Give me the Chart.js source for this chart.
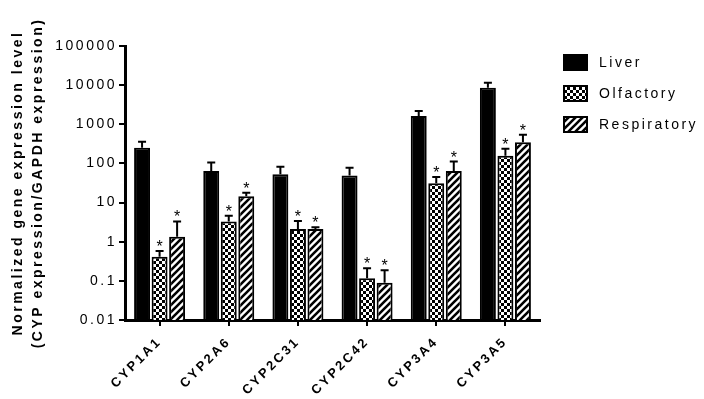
<!DOCTYPE html>
<html>
<head>
<meta charset="utf-8">
<script src="https://cdn.jsdelivr.net/npm/chart.js@4.4.1/dist/chart.umd.min.js"></script>
<style>
  html, body { margin: 0; padding: 0; background: #fff; }
  canvas { display: block; }
</style>
</head>
<body>
<canvas id="chart" width="704" height="399"></canvas>
<script>
// Valores (escala log)
const genes = ['CYP1A1', 'CYP2A6', 'CYP2C31', 'CYP2C42', 'CYP3A4', 'CYP3A5'];
const seriesNames = ['Liver', 'Olfactory', 'Respiratory'];
const liver = [251, 64, 53, 49, 1620, 8600];
const liverErr = [357, 106, 82, 77, 2180, 11500];
const olfactory = [0.41, 3.3, 2.1, 0.117, 31, 157];
const olfactoryErr = [0.58, 4.6, 3.4, 0.21, 45, 236];
const respiratory = [1.33, 14.6, 2.1, 0.09, 64, 350];
const respiratoryErr = [3.3, 17.8, 2.35, 0.187, 112, 540];
const olfactorySig = ['*', '*', '*', '*', '*', '*'];
const respiratorySig = ['*', '*', '*', '*', '*', '*'];
const yTicks = [0.01, 0.1, 1, 10, 100, 1000, 10000, 100000];
const yTickLabels = ['0.01', '0.1', '1', '10', '100', '1000', '10000', '100000'];
const yTitle = ['Normalized gene expression level', '(CYP expression/GAPDH expression)'];

const canvas = document.getElementById('chart');
const ctx = canvas.getContext('2d');

Chart.defaults.font.family = '"Liberation Sans", Arial, sans-serif';
Chart.defaults.color = '#000';

// padrões de preenchimento
const criarXadrez = () => {
    const t = document.createElement('canvas');
    t.width = 6; t.height = 6;
    const g = t.getContext('2d');
    g.fillStyle = '#fff'; g.fillRect(0, 0, 6, 6);
    g.fillStyle = '#000'; g.fillRect(0, 0, 3, 3); g.fillRect(3, 3, 3, 3);
    return ctx.createPattern(t, 'repeat');
};
const criarListras = () => {
    const n = 7;
    const t = document.createElement('canvas');
    t.width = n; t.height = n;
    const g = t.getContext('2d');
    g.fillStyle = '#fff'; g.fillRect(0, 0, n, n);
    g.strokeStyle = '#000'; g.lineWidth = 2.6;
    g.beginPath();
    g.moveTo(-1, n + 1); g.lineTo(n + 1, -1);
    g.moveTo(-2, 2); g.lineTo(2, -2);
    g.moveTo(n - 2, n + 2); g.lineTo(n + 2, n - 2);
    g.stroke();
    return ctx.createPattern(t, 'repeat');
};

const espacamento = {
    id: 'espacamento',
    beforeLayout(chart) { chart.ctx.letterSpacing = '2.5px'; },
    beforeDraw(chart) { chart.ctx.letterSpacing = '2.5px'; }
};

const barrasErro = {
    id: 'barrasErro',
    afterDatasetsDraw(chart) {
        const c = chart.ctx;
        const y = chart.scales.y;
        chart.data.datasets.forEach((ds, i) => {
            chart.getDatasetMeta(i).data.forEach((bar, j) => {
                const top = y.getPixelForValue(ds.errorTop[j]);
                c.save();
                c.strokeStyle = '#000';
                c.lineWidth = 2;
                c.beginPath();
                c.moveTo(bar.x, bar.y);
                c.lineTo(bar.x, top);
                c.moveTo(bar.x - 4, top);
                c.lineTo(bar.x + 4, top);
                c.stroke();
                if (ds.marks && ds.marks[j]) {
                    c.letterSpacing = '0px';
                    c.fillStyle = '#000';
                    c.font = '16px "Liberation Sans", Arial, sans-serif';
                    c.textAlign = 'center';
                    c.textBaseline = 'alphabetic';
                    c.fillText(ds.marks[j], bar.x, top + 1);
                }
                c.restore();
            });
        });
    }
};

const legendaLateral = {
    id: 'legendaLateral',
    afterDraw(chart) {
        const c = chart.ctx;
        chart.data.datasets.forEach((ds, i) => {
            const top = 55 + i * 31;
            c.save();
            c.fillStyle = ds.backgroundColor;
            c.fillRect(564, top, 23, 15);
            c.strokeStyle = '#000';
            c.lineWidth = 2;
            c.strokeRect(564, top, 23, 15);
            c.fillStyle = '#000';
            c.font = '14px "Liberation Sans", Arial, sans-serif';
            c.textAlign = 'left';
            c.textBaseline = 'middle';
            c.fillText(ds.label, 599, top + 8);
            c.restore();
        });
    }
};

new Chart(ctx, {
    type: 'bar',
    data: {
        labels: genes,
        datasets: [
            { label: seriesNames[0], data: liver, errorTop: liverErr, backgroundColor: '#000', borderColor: '#000', borderWidth: 2 },
            { label: seriesNames[1], data: olfactory, errorTop: olfactoryErr, marks: olfactorySig, backgroundColor: criarXadrez(), borderColor: '#000', borderWidth: 2 },
            { label: seriesNames[2], data: respiratory, errorTop: respiratoryErr, marks: respiratorySig, backgroundColor: criarListras(), borderColor: '#000', borderWidth: 2 }
        ]
    },
    options: {
        responsive: false,
        animation: false,
        devicePixelRatio: 1,
        layout: { padding: { left: 0, top: 46, right: 164, bottom: 0 } },
        datasets: { bar: { categoryPercentage: 0.76, barPercentage: 0.91 } },
        plugins: {
            legend: { display: false },
            tooltip: { enabled: false }
        },
        scales: {
            x: {
                grid: { offset: false, drawOnChartArea: false, color: '#000', lineWidth: 2, tickLength: 6 },
                border: { color: '#000', width: 3 },
                ticks: {
                    color: '#000',
                    font: { size: 13, weight: 'bold' },
                    minRotation: 45,
                    maxRotation: 45,
                    autoSkip: false,
                    padding: 8
                },
                afterFit(s) { s.height = 79; }
            },
            y: {
                type: 'logarithmic',
                min: 0.01,
                max: 100000,
                afterBuildTicks(s) { s.ticks = yTicks.map(v => ({ value: v })); },
                grid: { drawOnChartArea: false, color: '#000', lineWidth: 2, tickLength: 6 },
                border: { color: '#000', width: 3 },
                ticks: {
                    color: '#000',
                    font: { size: 14 },
                    padding: 2,
                    callback: (v, i) => yTickLabels[i]
                },
                title: {
                    display: true,
                    text: yTitle,
                    color: '#000',
                    font: { size: 14, weight: 'bold', lineHeight: 20 / 14 },
                    padding: { top: 8, bottom: 0 }
                },
                afterFit(s) { s.width = 125; }
            }
        }
    },
    plugins: [espacamento, barrasErro, legendaLateral]
});
</script>
</body>
</html>
